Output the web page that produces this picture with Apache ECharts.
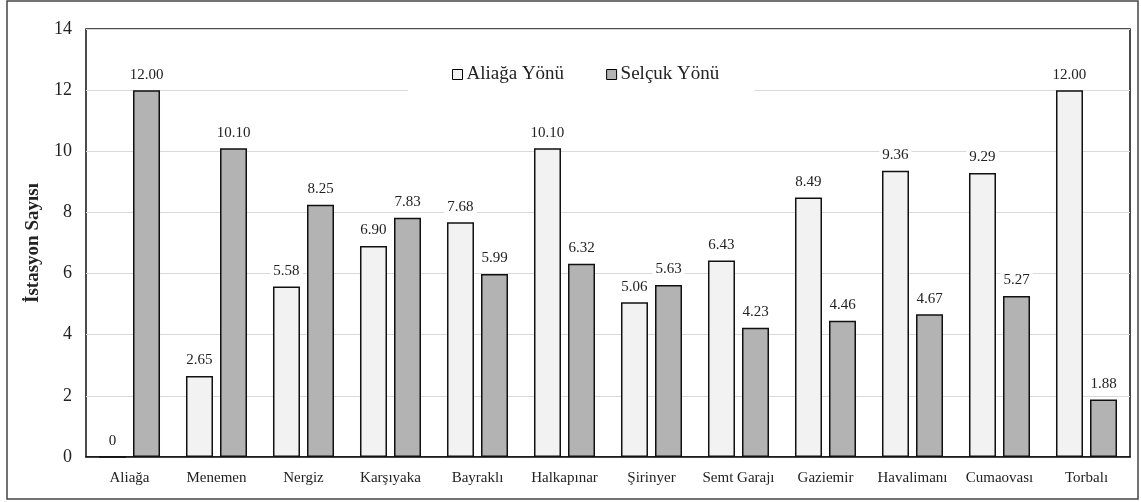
<!DOCTYPE html>
<html>
<head>
<meta charset="utf-8">
<script src="https://cdn.jsdelivr.net/npm/echarts@6/dist/echarts.min.js"></script>
<style>
  html, body { margin: 0; padding: 0; background: #fff; }
  #chart { width: 1141px; height: 502px; }
</style>
</head>
<body>
<div id="chart"></div>
<script>
// Stations along the line
const stations = ['Aliağa', 'Menemen', 'Nergiz', 'Karşıyaka', 'Bayraklı', 'Halkapınar',
  'Şirinyer', 'Semt Garajı', 'Gaziemir', 'Havalimanı', 'Cumaovası', 'Torbalı'];

// Station counts per direction
const aliagaYonu = [0, 2.65, 5.58, 6.90, 7.68, 10.10, 5.06, 6.43, 8.49, 9.36, 9.29, 12.00];
const selcukYonu = [12.00, 10.10, 8.25, 7.83, 5.99, 6.32, 5.63, 4.23, 4.46, 4.67, 5.27, 1.88];

const seriesNames = ['Aliağa Yönü', 'Selçuk Yönü'];
const yTicks = { min: 0, max: 14, interval: 2 };

const FONT = '"Liberation Serif", "Times New Roman", serif';

const valueLabel = {
  show: true,
  position: 'top',
  distance: 7,
  fontFamily: FONT,
  fontSize: 15,
  color: '#222',
  backgroundColor: '#fff',
  padding: [1, 3],
  formatter: p => (p.value === 0 ? '0' : p.value.toFixed(2))
};

const chart = echarts.init(document.getElementById('chart'), null, { renderer: 'canvas' });

chart.setOption({
  animation: false,
  textStyle: { fontFamily: FONT },
  graphic: [{
    type: 'rect',
    shape: { x: 7, y: 1, width: 1131, height: 498 },
    style: { fill: 'none', stroke: '#444', lineWidth: 1.5 },
    z: -1
  }],
  legend: {
    data: seriesNames,
    top: 59,
    left: 408,
    icon: 'rect',
    itemWidth: 10,
    itemHeight: 10,
    itemGap: 42,
    backgroundColor: '#fff',
    padding: [6, 35, 10, 44],
    itemStyle: { borderColor: '#000', borderWidth: 1 },
    textStyle: { fontFamily: FONT, fontSize: 19, color: '#222', padding: [0, 0, 0, -1] }
  },
  grid: {
    left: 86, right: 11, top: 29, bottom: 45,
    show: true,
    borderColor: '#111',
    borderWidth: 1.5,
    backgroundColor: 'transparent'
  },
  xAxis: {
    type: 'category',
    data: stations,
    axisLine: { show: true, lineStyle: { color: '#111', width: 1.5 } },
    axisTick: { show: false },
    axisLabel: { fontFamily: FONT, fontSize: 15, color: '#222', margin: 14, interval: 0 }
  },
  yAxis: {
    type: 'value',
    min: yTicks.min,
    max: yTicks.max,
    interval: yTicks.interval,
    name: 'İstasyon Sayısı',
    nameLocation: 'middle',
    nameGap: 43,
    nameTextStyle: { fontFamily: FONT, fontSize: 19, fontWeight: 'bold', color: '#222' },
    axisLine: { show: false },
    axisTick: { show: false },
    axisLabel: { fontFamily: FONT, fontSize: 18, color: '#222', margin: 14 },
    splitLine: { show: true, lineStyle: { color: '#d9d9d9', width: 1 } }
  },
  series: [
    {
      name: seriesNames[0],
      type: 'bar',
      data: aliagaYonu,
      barWidth: 27,
      barGap: '26%',
      itemStyle: { color: '#f2f2f2', borderColor: '#111', borderWidth: 1.5 },
      label: valueLabel
    },
    {
      name: seriesNames[1],
      type: 'bar',
      data: selcukYonu,
      barWidth: 27,
      barGap: '26%',
      itemStyle: { color: '#b3b3b3', borderColor: '#111', borderWidth: 1.5 },
      label: valueLabel
    }
  ]
});
</script>
</body>
</html>
